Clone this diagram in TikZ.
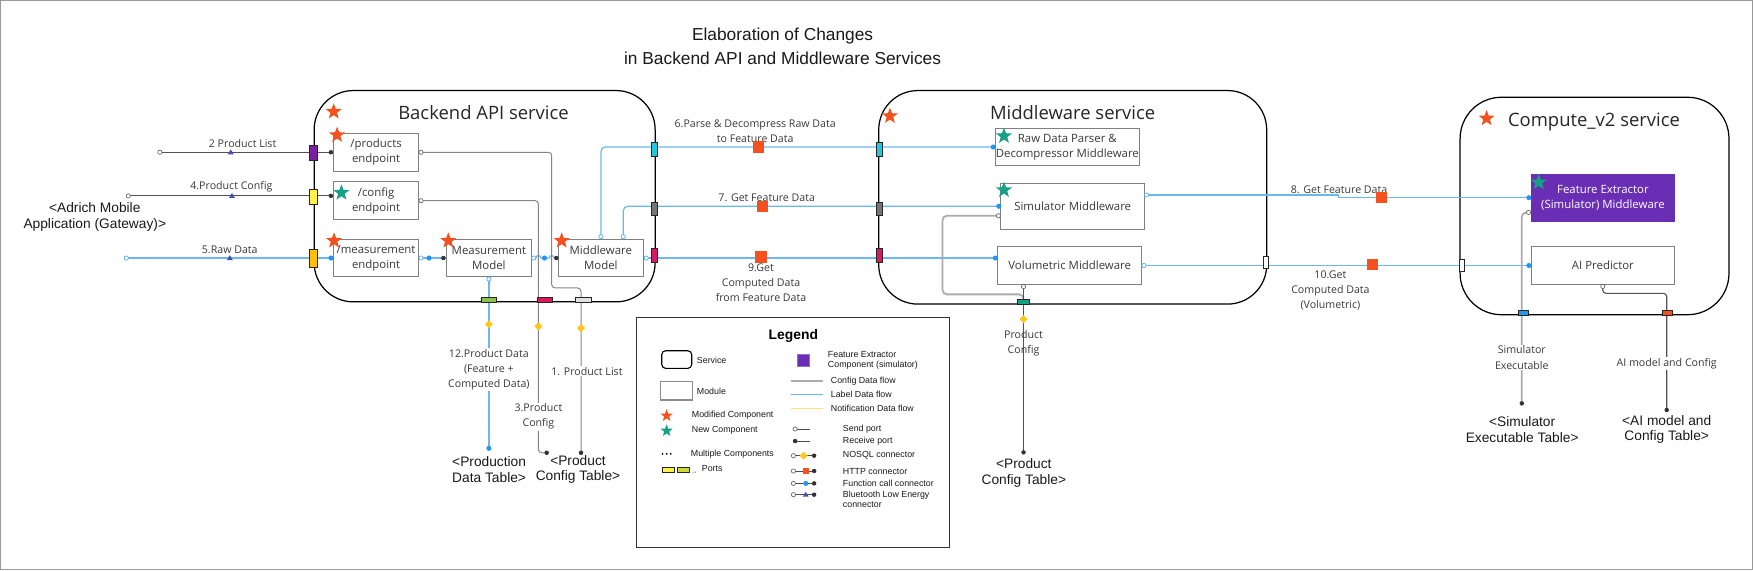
\documentclass[tikz,border=0pt]{standalone}
\usepackage{fontspec}
\setmainfont{Open Sans}
\newfontfamily\arialf{Liberation Sans}
\usetikzlibrary{shapes.geometric}
\definecolor{starred}{HTML}{F4511E}
\definecolor{stargreen}{HTML}{16A085}
\definecolor{txt}{HTML}{3A3A3A}
\definecolor{lblue}{HTML}{6DB6F2}
\definecolor{dotblue}{HTML}{2196F3}
\definecolor{featpurple}{HTML}{6A2EB5}
\definecolor{bleblue}{HTML}{3F51B5}
\definecolor{diamy}{HTML}{FFC61A}
\definecolor{pportpurple}{HTML}{7B1FA2}
\definecolor{pyellow}{HTML}{FFF04A}
\definecolor{pamber}{HTML}{FFC107}
\definecolor{pcyan}{HTML}{26C6DA}
\definecolor{pgray}{HTML}{757575}
\definecolor{pmag}{HTML}{D81B60}
\definecolor{pgreen}{HTML}{8BC34A}
\definecolor{plgray}{HTML}{E0E0E0}
\definecolor{pteal}{HTML}{16A085}
\definecolor{notiy}{HTML}{FFE07A}
\definecolor{lime}{HTML}{CDDC39}
\newcommand\mkopen[1]{\draw[draw=black!60,fill=white,line width=0.6pt] (#1) circle (1.9pt);}
\newcommand\mkopenb[1]{\draw[draw=dotblue!80,fill=white,line width=0.6pt] (#1) circle (1.9pt);}
\newcommand\mkrecv[1]{\fill[black!80] (#1) circle (2pt);}
\newcommand\mkblue[1]{\fill[dotblue] (#1) circle (2.3pt);}
\newcommand\mkhttp[1]{\fill[starred] (#1) +(-5,-5) rectangle +(5,5);}
\newcommand\mknosql[1]{\fill[diamy] (#1) +(-3.6,0) -- +(0,-3.6) -- +(3.6,0) -- +(0,3.6) -- cycle;}
\newcommand\mkble[1]{\fill[bleblue] (#1) +(-2.6,1.8) -- +(2.6,1.8) -- +(0,-2.6) -- cycle;}
\begin{document}
\begin{tikzpicture}[x=1pt,y=-1pt,
  svc/.style={draw=black, line width=1.1pt, rounded corners=35pt, inner sep=0pt},
  module/.style={draw=black!50, line width=0.9pt, fill=white, align=center, inner sep=0pt, text=txt, font=\fontsize{10.2}{13.4}\selectfont},
  stitle/.style={font=\fontsize{16.5}{20}\selectfont, text=black!85, inner sep=0pt},
  lbl/.style={font=\fontsize{9.5}{13.5}\selectfont, text=txt, align=center, inner sep=1pt},
  lblw/.style={lbl, fill=white},
  tbl/.style={font=\arialf\fontsize{12.3}{14}\selectfont, text=black!90, align=center, inner sep=0pt},
  lg/.style={font=\arialf\fontsize{7.9}{9}\selectfont, text=black!90, anchor=west, inner sep=0pt, align=left},
  rstar/.style={star, star points=5, star point ratio=2.4, fill=starred, inner sep=0pt, minimum size=15pt},
  gstar/.style={rstar, fill=stargreen},
  port/.style={draw=black!85, line width=0.5pt, inner sep=0pt, minimum width=6.5pt, minimum height=13pt},
  rport/.style={port, minimum width=5pt, minimum height=12pt},
  bport/.style={port, minimum height=4.6pt, minimum width=13pt},
  darkln/.style={draw=black!68, line width=1.1pt},
  gln/.style={draw=black!48, line width=0.9pt, rounded corners=3pt},
  blueln/.style={draw=lblue, line width=1.1pt},
  lgln/.style={draw=black!33, line width=1.6pt, rounded corners=4pt},
  dln/.style={draw=black!68, line width=1pt, rounded corners=3pt}]
\useasboundingbox (0,0) rectangle (1568,510);
\draw[black!40, line width=1pt] (0.5,0.5) rectangle (1567.5,509.5);

\node[font=\arialf\fontsize{15.5}{22}\selectfont, align=center, text=black!90] (title) at (700,41.5) {Elaboration of Changes\\in Backend API and Middleware Services};

% services
\node[svc, minimum width=305pt, minimum height=189pt] (backend) at (433.5,175.5) {};
\node[svc, minimum width=347pt, minimum height=191pt] (mwsvc) at (959.5,176.5) {};
\node[svc, rounded corners=37pt, minimum width=240.5pt, minimum height=194.5pt] (compsvc) at (1426.25,184.25) {};
\node[stitle] (backendT) at (432.5,101) {Backend API service};
\node[stitle] (mwT) at (959.4,101) {Middleware service};
\node[stitle] (compT) at (1425.8,108.8) {Compute\_v2 service};

% modules
\node[module, minimum width=76pt, minimum height=33.6pt] (prod) at (336.4,136.2) {/products\\endpoint};
\node[module, minimum width=76pt, minimum height=33.6pt] (conf) at (336.4,179.5) {/config\\endpoint};
\node[module, minimum width=76pt, minimum height=33.6pt] (meas) at (336.4,230.8) {/measurement\\endpoint};
\node[module, minimum width=76pt, minimum height=33.6pt] (mmod) at (437.3,230.8) {Measurement\\Model};
\node[module, minimum width=76pt, minimum height=33.6pt] (mwmod) at (537.4,230.8) {Middleware\\Model};
\node[module, minimum width=128.4pt, minimum height=33.4pt] (rawp) at (954.7,131.5) {Raw Data Parser \&\\Decompressor Middleware};
\node[module, minimum width=128.4pt, minimum height=41pt] (sim) at (959.5,184.5) {Simulator Middleware};
\node[module, minimum width=128.8pt, minimum height=33.6pt] (vol) at (956.8,237.5) {Volumetric Middleware};
\node[module, draw=featpurple, fill=featpurple, text=white, minimum width=128.5pt, minimum height=41.7pt] (feat) at (1433.75,176.85) {Feature Extractor\\(Simulator) Middleware};
\node[module, minimum width=128.5pt, minimum height=33.6pt] (aip) at (1433.75,237.5) {AI Predictor};

% connectors
\coordinate (g2) at (143,136.2);
\coordinate (g4) at (114.7,175.2);
\coordinate (g5) at (113,230.8);
\draw[darkln] (g2) -- (g2 -| prod.west);
\draw[darkln] (g4) -- (g4 -| conf.west);
\draw[blueln] (g5) -- (g5 -| meas.west);
\draw[blueln] (meas.east) -- (mmod.west);
\draw[blueln] (mmod.east) -- (479.4,230.8) arc[start angle=180,end angle=360,radius=2.2] -- (491.3,230.8) arc[start angle=180,end angle=360,radius=2.2] -- (mwmod.west);
\draw[gln] (prod.east) -- (493.5,136.2) -- (493.5,257.6) -- (519.7,257.6) -- (519.7,405);
\draw[gln] (conf.east) -- (481.6,179.5) -- (481.6,405) -- (489,405);
\draw[blueln] (mmod.south) -- (437.3,401);
\draw[blueln, rounded corners=4pt] (537.5,214) -- (537.5,131.5) -- (rawp.west);
\draw[blueln, rounded corners=4pt] (557.5,214) -- (557.5,184.5) -- (sim.west);
\draw[blueln] (mwmod.east) -- (vol.west |- mwmod.east);
\draw[blueln] (1023.7,174.4) -- (1197,174.4) -- (1197,176.85) -- (feat.west);
\draw[blueln] (vol.east) -- (aip.west);
\draw[lgln] (895.3,193) -- (843,193) -- (843,263.3) -- (915.5,263.3) -- (915.5,269.7);
\draw[dln] (915.5,254.3) -- (915.5,404.6);
\draw[lgln] (1369.5,190) -- (1361.2,190) -- (1361.2,360.8);
\draw[dln] (1433.6,254.3) -- (1433.6,262.4) -- (1490.8,262.4) -- (1490.8,366.7);

% ports
\node[port, fill=pportpurple] (pA) at (280.1,136.5) {};
\node[port, fill=pyellow] (pB) at (280.1,175.9) {};
\node[port, fill=pamber, minimum height=16.7pt] (pC) at (280.1,231.1) {};
\node[rport, fill=pcyan] (pD) at (585.3,133.6) {};
\node[rport, fill=pgray] (pE) at (585.3,186.6) {};
\node[rport, fill=pmag] (pF) at (585.3,228.4) {};
\node[rport, fill=pcyan] (pG) at (786.5,133.6) {};
\node[rport, fill=pgray] (pH) at (786.5,186.6) {};
\node[rport, fill=pmag] (pI) at (786.5,228.3) {};
\node[rport, fill=white, minimum width=4.5pt, minimum height=10.5pt] (pJ) at (1132,234.8) {};
\node[rport, fill=white, minimum width=4.5pt, minimum height=10.5pt] (pK) at (1307.5,237.2) {};
\node[bport, fill=pgreen] (pL) at (437.1,268) {};
\node[bport, fill=pmag, minimum width=14pt] (pM) at (487.4,268) {};
\node[bport, fill=plgray, minimum width=14pt] (pN) at (522,268) {};
\node[bport, fill=pteal, minimum width=11pt] (pO) at (915.5,269.7) {};
\node[bport, fill=dotblue, minimum width=9pt] (pP) at (1362.5,279.5) {};
\node[bport, fill=starred, minimum width=9pt] (pQ) at (1491.5,279.5) {};

% labels
\node[tbl] (gw) at (84.8,194.2) {<Adrich Mobile\\Application (Gateway)>};
\node[lbl] (l2) at (217,128.2) {2 Product List};
\node[lbl] (l4) at (207,167) {4.Product Config};
\node[lbl] (l5) at (205.5,223) {5.Raw Data};
\node[lblw] (l12) at (437.3,330.6) {12.Product Data\\(Feature +\\Computed Data)};
\node[lblw] (l3) at (481.6,372.6) {3.Product\\Config};
\node[lblw] (l1) at (525,331.9) {1. Product List};
\node[lbl] (l6) at (675.5,117) {6.Parse \& Decompress Raw Data\\to Feature Data};
\node[lbl] (l7) at (685.8,176.5) {7. Get Feature Data};
\node[lbl] (l9) at (680.7,253.2) {9.Get\\Computed Data\\from Feature Data};
\node[lbl] (l8) at (1197.7,169.4) {8. Get Feature Data};
\node[lbl] (l10) at (1190,259.7) {10.Get\\Computed Data\\(Volumetric)};
\node[lbl] (lpc) at (915.5,307.3) {Product\\Config};
\node[lblw] (lse) at (1361.2,319.8) {Simulator\\Executable};
\node[lblw] (lai) at (1490.8,325) {AI model and Config};
\node[tbl] (t1) at (437.5,420) {<Production\\Data Table>};
\node[tbl] (t2) at (517,420) {<Product\\Config Table>};
\node[tbl] (t3) at (915.8,423) {<Product\\Config Table>};
\node[tbl] (t4) at (1361.5,384) {<Simulator\\Executable Table>};
\node[tbl] (t5) at (1490.8,384) {<AI model and\\Config Table>};

% markers
\mkopen{g2} \mkopen{g4} \mkopenb{g5}
\mkble{206.4,136.2} \mkble{207.5,175.2} \mkble{205.6,230.8}
\mkrecv{296,136.2} \mkrecv{296,175.2} \mkblue{296,230.8}
\mkopen{376.6,136.2} \mkopen{376.6,179.5}
\mkopenb{376.6,230.8} \mkblue{383.8,230.8} \mkrecv{396.6,230.8}
\mkopenb{477.4,230.8} \mkblue{487,230.8} \mkrecv{497.6,230.8}
\mkopenb{437.3,249.6} \mknosql{437.3,290} \mkblue{437.3,401}
\mknosql{481.6,291.9} \mknosql{519.7,293.4}
\mkrecv{519.7,405} \mkrecv{489,405}
\mkopenb{537.5,211.7} \mkopenb{557.5,211.7} \mkopenb{578,230.8}
\mkhttp{678.2,131.5} \mkhttp{682.3,185} \mkhttp{680.7,229.8}
\mkblue{888.4,131.5} \mkblue{893.4,184.5} \mkblue{890.3,230.8}
\mkopen{893,193} \mkopen{915.5,256.4}
\mknosql{915.5,285.4} \mkrecv{915.5,404.6}
\mkopenb{1025.6,174.4} \mkhttp{1236,176.8} \mkblue{1367.5,176.85}
\mkopenb{1023.2,237.5} \mkhttp{1228,236.5} \mkblue{1367.5,237.5}
\mkopen{1367.2,190} \mkrecv{1361.2,360.8}
\mkopen{1433.6,256.2} \mkrecv{1490.8,366.7}

% stars
\node[rstar] (sB) at (298.5,99.9) {};
\node[rstar] (sM) at (796,103.8) {};
\node[rstar] (sC) at (1329.7,105.9) {};
\node[rstar] (s1) at (301.5,120.8) {};
\node[gstar] (s2) at (305.4,172.4) {};
\node[rstar] (s3) at (298.8,215.3) {};
\node[rstar] (s4) at (401,215.3) {};
\node[rstar] (s5) at (502.4,215.3) {};
\node[gstar] (s6) at (898,121.7) {};
\node[gstar] (s7) at (898,170) {};
\node[gstar] (s8) at (1376.3,163.1) {};

% legend
\node[draw=black!80, line width=0.8pt, minimum width=279.7pt, minimum height=206.1pt, inner sep=0pt] (legend) at (709.35,386.95) {};
\node[font=\arialf\bfseries\fontsize{12.4}{14}\selectfont, inner sep=0pt] (legT) at (709.6,300.6) {Legend};
\draw[black, line width=1pt, rounded corners=3.5pt] (591.9,313.7) rectangle (618.7,329.5);
\node[lg] (lgS) at (623.2,322) {Service};
\draw[black!45, line width=1pt] (590.4,341.4) rectangle (619.3,357.8);
\node[lg] (lgM) at (623.2,349.8) {Module};
\node[rstar, minimum size=11.5pt] (lgs1) at (596.3,371.8) {};
\node[lg] (lgMC) at (618.7,371.8) {Modified Component};
\node[gstar, minimum size=11.5pt] (lgs2) at (596.3,385.3) {};
\node[lg] (lgNC) at (618.7,385.3) {New Component};
\fill[black] (592.6,406) circle (0.9pt) (596.3,406) circle (0.9pt) (600,406) circle (0.9pt);
\node[lg] (lgMu) at (617.8,406) {Multiple Components};
\draw[black!85, line width=0.5pt, fill=pyellow] (592,418.3) rectangle (603,422.8);
\draw[black!85, line width=0.5pt, fill=lime] (605.8,418.3) rectangle (616.6,422.8);
\fill[black!70] (619.3,422.3) circle (0.4pt) (620.7,422.3) circle (0.4pt) (622.1,422.3) circle (0.4pt);
\node[lg] (lgP) at (627.6,419.5) {Ports};
\draw[featpurple!70, fill=featpurple, line width=0.4pt] (713.2,316.6) rectangle (724,327.4);
\node[lg] (lgF) at (740.4,322) {Feature Extractor\\Component (simulator)};
\draw[black!33, line width=1.8pt] (707.3,340.8) -- (736.5,340.8);
\node[lg] (lgCD) at (743,340.8) {Config Data flow};
\draw[lblue, line width=1pt] (707.3,352.7) -- (736.5,352.7);
\node[lg] (lgLD) at (743,352.7) {Label Data flow};
\draw[notiy, line width=1pt] (707.3,365.6) -- (736.5,365.6);
\node[lg] (lgND) at (743,365.6) {Notification Data flow};
\draw[black!70, line width=0.6pt] (711.2,383.7) -- (724.5,383.7);
\mkopen{711.2,383.7}
\node[lg] (lgSP) at (753.8,383.7) {Send port};
\draw[black!70, line width=0.6pt] (711.2,394.5) -- (724.5,394.5);
\mkrecv{711.2,394.5}
\node[lg] (lgRP) at (753.8,394.5) {Receive port};
\draw[black!70, line width=0.6pt] (709.7,407.6) -- (728.2,407.6);
\mkopen{709.7,407.6} \mknosql{718.8,407.6} \mkrecv{728.2,407.6}
\node[lg] (lgNO) at (753.8,407.6) {NOSQL connector};
\draw[black!70, line width=0.6pt] (709.7,421.3) -- (728.2,421.3);
\mkopen{709.7,421.3} \fill[starred] (718,418.6) rectangle (723.4,424); \mkrecv{728.2,421.3}
\node[lg] (lgHT) at (753.8,421.3) {HTTP connector};
\draw[black!70, line width=0.6pt] (709.7,432.4) -- (728.2,432.4);
\mkopen{709.7,432.4} \mkblue{720.7,432.4} \mkrecv{728.2,432.4}
\node[lg] (lgFC) at (753.8,432.4) {Function call connector};
\draw[black!70, line width=0.6pt] (709.7,442.5) -- (728.2,442.5);
\mkopen{709.7,442.5} \mkble{720.7,442.5} \mkrecv{728.2,442.5}
\node[lg] (lgBL) at (753.8,447) {Bluetooth Low Energy\\connector};
\end{tikzpicture}
\end{document}
